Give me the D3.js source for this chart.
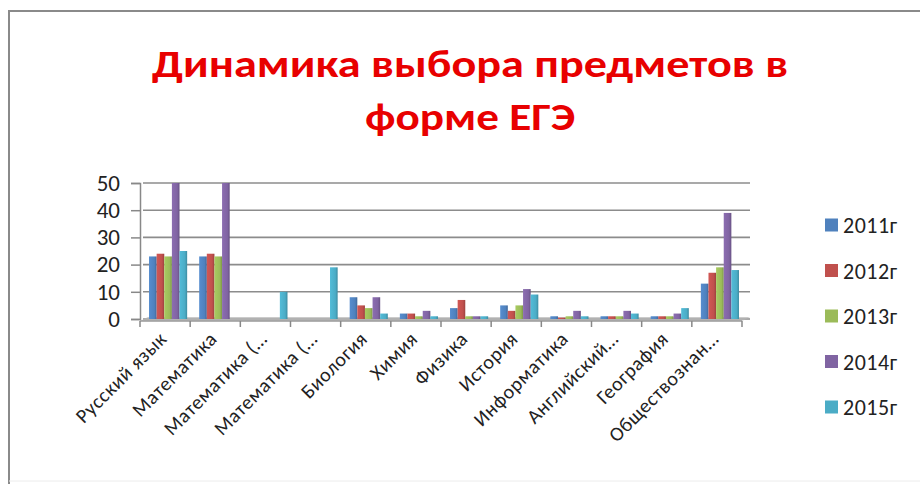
<!DOCTYPE html>
<html><head><meta charset="utf-8">
<script src="https://cdn.jsdelivr.net/npm/d3@7/dist/d3.min.js"></script>
<style>body{margin:0;background:#fff}svg{display:block}</style>
</head><body><svg id="c" width="920" height="484"></svg>
<script>
const categories = ["Русский язык","Математика","Математика (…","Математика (…","Биология","Химия","Физика","История","Информатика","Английский…","География","Обществознан…"];
const seriesNames = ["2011г","2012г","2013г","2014г","2015г"];
const v2011 = [23,23,0,0,8,2,4,5,1,1,1,13];
const v2012 = [24,24,0,0,5,2,7,3,0.5,1,1,17];
const v2013 = [23,23,0,0,4,1,1,5,1,1,1,19];
const v2014 = [50,50,0,0,8,3,1,11,3,3,2,39];
const v2015 = [25,0,10,19,2,1,1,9,1,2,4,18];
const yTicks = [0,10,20,30,40,50];
const colors = ["#4F81BD","#C0504D","#9BBB59","#8064A2","#4BACC6"];
const titleLines = ["Динамика выбора предметов в","форме ЕГЭ"];

const values = [v2011,v2012,v2013,v2014,v2015];
const svg = d3.select("#c");
const font = "Carlito, Calibri, Lato, 'Open Sans', sans-serif";

// border
svg.append("path").attr("d","M9,484 L9,11 L920,11").attr("fill","none").attr("stroke","#8a8a8a").attr("stroke-width",2);
svg.append("line").attr("x1",9).attr("x2",920).attr("y1",481).attr("y2",481).attr("stroke","#ececec").attr("stroke-width",1);

// title
svg.selectAll("text.title").data(titleLines).enter().append("text")
  .attr("x",470).attr("y",(d,i)=>77+i*53).attr("text-anchor","middle")
  .attr("font-family",font).attr("font-weight","bold").attr("font-size",39)
  .attr("fill","#E80000")
  .attr("textLength",(d,i)=>i===0?636:210).attr("lengthAdjust","spacingAndGlyphs")
  .text(d=>d);

const x0 = d3.scaleBand().domain(d3.range(categories.length)).range([140,742]).paddingInner(0.24).paddingOuter(0.12);
const x1 = d3.scaleBand().domain(d3.range(seriesNames.length)).range([0,x0.bandwidth()]);
const y = d3.scaleLinear().domain([0,50]).range([319,183]);
const xc = d3.scalePoint().domain(d3.range(categories.length+1)).range([140,742]);

// gridlines
svg.append("g").selectAll("line").data(yTicks).enter().append("line")
  .attr("x1",143).attr("x2",750).attr("y1",d=>y(d)).attr("y2",d=>y(d))
  .attr("stroke","#8c8c8c").attr("stroke-width",1.6);

// floor
svg.append("path").attr("d",`M140,${y(0)+2} L742,${y(0)+2} L750,${y(0)-2} L148,${y(0)-2} Z`).attr("fill","#b5b5b5").attr("opacity",0.7);

// y axis
const yAxis = d3.axisLeft(y).tickValues(yTicks).tickSize(9).tickPadding(11);
const ga = svg.append("g").attr("transform","translate(140,0)").call(yAxis);
ga.select(".domain").attr("stroke","#888").attr("stroke-width",1.5);
ga.selectAll(".tick line").attr("stroke","#888").attr("stroke-width",1.5);
ga.selectAll("text").attr("font-family",font).attr("font-size",23).attr("fill","#222");

// x axis line + ticks
svg.append("line").attr("x1",140).attr("x2",742).attr("y1",y(0)+2).attr("y2",y(0)+2).attr("stroke","#999").attr("stroke-width",1.5);
svg.append("g").selectAll("line").data(xc.domain()).enter().append("line")
  .attr("x1",d=>xc(d)).attr("x2",d=>xc(d)).attr("y1",y(0)+2).attr("y2",y(0)+8)
  .attr("stroke","#888").attr("stroke-width",1.5);

// bars
const defs = svg.append("defs");
colors.forEach((c,i)=>{
  const g = defs.append("linearGradient").attr("id","g"+i);
  g.append("stop").attr("offset","0").attr("stop-color",d3.color(c).brighter(0.25));
  g.append("stop").attr("offset","0.7").attr("stop-color",c);
  g.append("stop").attr("offset","1").attr("stop-color",d3.color(c).darker(0.6));
});
const gb = svg.append("g");
values.forEach((arr,s)=>{
  arr.forEach((v,i)=>{
    if(v<=0) return;
    const bx = x0(i)+x1(s)+3, bw = x1.bandwidth();
    gb.append("rect").attr("x",bx).attr("y",y(v)).attr("width",bw).attr("height",y(0)-y(v))
      .attr("fill",`url(#g${s})`);
  });
});

// x labels
svg.append("g").selectAll("text").data(categories).enter().append("text")
  .attr("transform",(d,i)=>`translate(${x0(i)+x0.bandwidth()/2+3},${y(0)+21}) rotate(-45)`)
  .attr("text-anchor","end").attr("font-family",font).attr("font-size",20)
  .attr("letter-spacing",0.6).attr("fill","#222")
  .text(d=>d);

// legend
const lg = svg.append("g").selectAll("g").data(seriesNames).enter().append("g")
  .attr("transform",(d,i)=>`translate(825,${225+i*45.5})`);
lg.append("rect").attr("x",0).attr("y",-6.5).attr("width",13).attr("height",13).attr("fill",(d,i)=>colors[i]);
lg.append("text").attr("x",18).attr("y",8).attr("font-family",font).attr("font-size",22)
  .attr("letter-spacing",0.5).attr("fill","#222").text(d=>d);
</script></body></html>
